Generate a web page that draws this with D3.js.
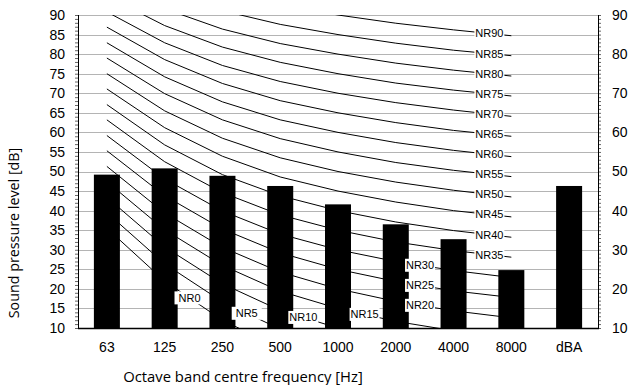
<!DOCTYPE html>
<html>
<head>
<meta charset="utf-8">
<script src="https://cdn.jsdelivr.net/npm/d3@7"></script>
<style>
  body { margin: 0; background: #fff; }
</style>
</head>
<body>
<div id="chart"></div>
<script>
const categories = ["63", "125", "250", "500", "1000", "2000", "4000", "8000", "dBA"];
const levels = [49.2, 50.8, 48.9, 46.3, 41.6, 36.5, 32.7, 24.8, 46.3];

// NR curves, values at 63 ... 8000 Hz
const nrNames = ["NR0", "NR5", "NR10", "NR15", "NR20", "NR25", "NR30", "NR35", "NR40",
    "NR45", "NR50", "NR55", "NR60", "NR65", "NR70", "NR75", "NR80", "NR85", "NR90"];
const nrCurves = [
    [35.5, 22.0, 12.0, 4.8, 0, -3.5, -6.1, -8.0],
    [39.5, 26.4, 16.7, 9.7, 5, 1.6, -1.0, -2.9],
    [43.4, 30.7, 21.3, 14.5, 10, 6.7, 4.2, 2.3],
    [47.4, 35.1, 26.0, 19.4, 15, 11.7, 9.3, 7.5],
    [51.3, 39.4, 30.6, 24.3, 20, 16.8, 14.4, 12.6],
    [55.3, 43.8, 35.3, 29.2, 25, 21.9, 19.5, 17.8],
    [59.2, 48.1, 39.9, 34.0, 30, 27.0, 24.7, 22.9],
    [63.2, 52.5, 44.6, 38.9, 35, 32.0, 29.8, 28.1],
    [67.1, 56.8, 49.2, 43.8, 40, 37.1, 34.9, 33.2],
    [71.1, 61.2, 53.9, 48.6, 45, 42.2, 40.0, 38.4],
    [75.0, 65.5, 58.5, 53.5, 50, 47.3, 45.2, 43.5],
    [79.0, 69.9, 63.2, 58.4, 55, 52.3, 50.3, 48.7],
    [82.9, 74.2, 67.8, 63.2, 60, 57.4, 55.4, 53.8],
    [86.9, 78.6, 72.5, 68.1, 65, 62.5, 60.5, 59.0],
    [90.8, 82.9, 77.1, 73.0, 70, 67.6, 65.7, 64.1],
    [94.8, 87.3, 81.8, 77.9, 75, 72.6, 70.8, 69.3],
    [98.7, 91.6, 86.4, 82.7, 80, 77.7, 75.9, 74.4],
    [102.7, 96.0, 91.1, 87.6, 85, 82.8, 81.0, 79.6],
    [106.6, 100.3, 95.7, 92.5, 90, 87.9, 86.2, 84.7]
];
const leftTicks = [10, 15, 20, 25, 30, 35, 40, 45, 50, 55, 60, 65, 70, 75, 80, 85, 90];
const rightTicks = [10, 20, 30, 40, 50, 60, 70, 80, 90];

// where along the band index each NR label sits
const labelPos = [1.43, 2.42, 3.4, 4.46, 5.42, 5.42, 5.42,
    6.62, 6.62, 6.62, 6.62, 6.62, 6.62, 6.62, 6.62, 6.62, 6.62, 6.62, 6.62];

const W = 628, H = 385;
const L = 78, R = 598, T = 15, B = 328;
const arial = "'Liberation Sans', Arial, sans-serif";

const svg = d3.select("#chart").append("svg")
    .attr("width", W).attr("height", H);

const x = d3.scaleBand().domain(categories).range([L, R])
    .paddingInner(0.55).paddingOuter(0.275);
const y = d3.scaleLinear().domain([10, 90]).range([B, T]);
const cx = (i) => x(categories[i]) + x.bandwidth() / 2;

svg.append("defs").append("clipPath").attr("id", "plot")
    .append("rect").attr("x", L).attr("y", T).attr("width", R - L).attr("height", B - T);

// grid
svg.append("g").selectAll("line").data(leftTicks.slice(1)).enter().append("line")
    .attr("x1", L).attr("x2", R)
    .attr("y1", (d) => Math.round(y(d)) + 0.5).attr("y2", (d) => Math.round(y(d)) + 0.5)
    .attr("stroke", "#b4b4b4").attr("stroke-width", 1);

// NR curves
const line = d3.line().x((d, i) => cx(i)).y((d) => y(d));
svg.append("g").attr("clip-path", "url(#plot)")
    .selectAll("path").data(nrCurves).enter().append("path")
    .attr("d", line).attr("fill", "none").attr("stroke", "#000").attr("stroke-width", 1);

// bars
svg.append("g").selectAll("rect").data(levels).enter().append("rect")
    .attr("x", (d, i) => x(categories[i]))
    .attr("y", (d) => y(d))
    .attr("width", x.bandwidth())
    .attr("height", (d) => B - y(d))
    .attr("fill", "#000");

// NR labels
const step = x.step();
const lab = svg.append("g").selectAll("g").data(nrNames).enter().append("g")
    .attr("transform", (d, k) => {
        const p = labelPos[k], i = Math.floor(p), t = p - i;
        const c = nrCurves[k];
        const v = c[i] + (c[i + 1] - c[i]) * t;
        return "translate(" + (cx(i) + t * step) + "," + y(v) + ")";
    });
lab.append("rect").attr("x", -15).attr("y", -6.5).attr("width", 30).attr("height", 13).attr("fill", "#fff");
lab.append("text").text((d) => d).attr("text-anchor", "middle").attr("dy", "0.36em")
    .style("font-family", arial).style("font-size", "11px").attr("fill", "#000");

// axes
const minor = d3.range(10, 91);
svg.append("g").attr("transform", "translate(" + L + ",0)")
    .call(d3.axisLeft(y).tickValues(minor).tickSize(3).tickFormat(""))
    .call((g) => g.selectAll("line").attr("stroke", "#666"))
    .call((g) => g.select(".domain").remove());
svg.append("g").attr("transform", "translate(" + R + ",0)")
    .call(d3.axisRight(y).tickValues(minor).tickSize(3).tickFormat(""))
    .call((g) => g.selectAll("line").attr("stroke", "#666"))
    .call((g) => g.select(".domain").remove());

svg.append("line").attr("x1", L + 0.5).attr("x2", L + 0.5).attr("y1", T).attr("y2", B).attr("stroke", "#000");
svg.append("line").attr("x1", R + 0.5).attr("x2", R + 0.5).attr("y1", T).attr("y2", B).attr("stroke", "#000");
svg.append("line").attr("x1", L).attr("x2", R + 1).attr("y1", B + 0.5).attr("y2", B + 0.5).attr("stroke", "#000").attr("stroke-width", 1.5);

const styleTicks = (g) => g.selectAll("text")
    .style("font-family", arial).style("font-size", "14px").attr("fill", "#000");

svg.append("g").attr("transform", "translate(" + L + ",0)")
    .call(d3.axisLeft(y).tickValues(leftTicks).tickSize(0).tickPadding(13))
    .call((g) => g.select(".domain").remove())
    .call(styleTicks);

svg.append("g").attr("transform", "translate(" + R + ",0)")
    .call(d3.axisRight(y).tickValues(rightTicks).tickSize(0).tickPadding(14))
    .call((g) => g.select(".domain").remove())
    .call(styleTicks);

svg.append("g").attr("transform", "translate(0," + B + ")")
    .call(d3.axisBottom(x).tickSize(0).tickPadding(14))
    .call((g) => g.select(".domain").remove())
    .call(styleTicks);

// titles
svg.append("text").text("Octave band centre frequency [Hz]")
    .attr("x", 243).attr("y", 382).attr("text-anchor", "middle")
    .style("font-family", "'Open Sans', sans-serif").style("font-size", "14.8px");
svg.append("text").text("Sound pressure level [dB]")
    .attr("transform", "translate(19,233) rotate(-90)").attr("text-anchor", "middle")
    .style("font-family", "'Open Sans', sans-serif").style("font-size", "14.3px");
</script>
</body>
</html>
